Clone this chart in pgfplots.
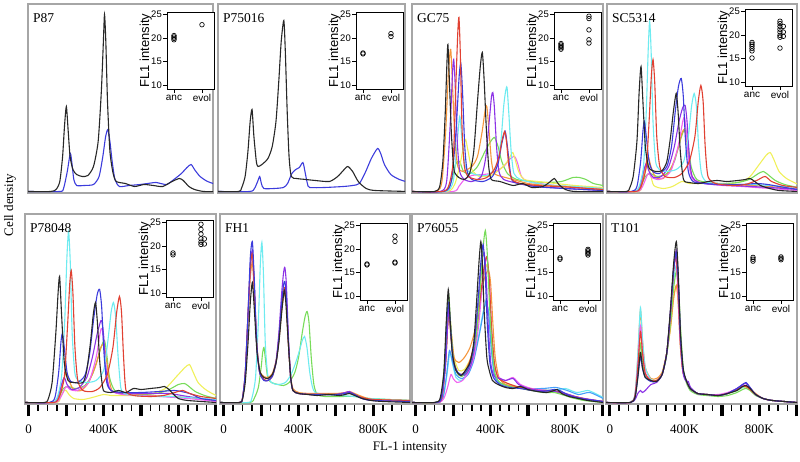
\documentclass[border=0pt]{standalone}
\usepackage{pgfplots}
\pgfplotsset{compat=1.18}
\usepackage{fontspec}
\setmainfont{Liberation Serif}
\newfontfamily\sansf{Liberation Sans}
\definecolor{cblk}{RGB}{40,40,40}
\definecolor{cblu}{RGB}{60,60,220}
\definecolor{cred}{RGB}{225,65,50}
\definecolor{ccya}{RGB}{110,235,240}
\definecolor{cgrn}{RGB}{120,220,90}
\definecolor{cyel}{RGB}{240,240,90}
\definecolor{cora}{RGB}{245,150,60}
\definecolor{cpur}{RGB}{140,50,230}
\definecolor{cmag}{RGB}{240,100,240}
\definecolor{csky}{RGB}{70,160,250}
\tikzset{ptitle/.style={anchor=north west, inner sep=0pt, font=\fontsize{13.5}{13.5}\selectfont}}
\pgfplotsset{
  panel/.style={scale only axis, height=189pt, xmin=-20, ymin=-1.5, ymax=187.5,
    axis line style={draw=black!35, line width=1.1pt}, xtick=\empty, ytick=\empty, anchor=south west,
    every axis plot/.append style={line width=1.1pt, no marks, smooth, tension=0.4}},
  lowpanel/.style={panel, height=190pt, ymax=188.5, xtick={0,200,400,600,800,1000}, xticklabels={0,,400K,,800K,},
    minor xtick={50,100,150,250,300,350,450,500,550,650,700,750,850,900,950},
    tick align=outside, tick pos=left, major tick length=12.5pt, minor tick length=7pt,
    major tick style={line width=3.1pt, black}, minor tick style={line width=1.6pt, black},
    xticklabel style={font=\fontsize{13}{13}\selectfont, yshift=-5pt}},
  inset/.style={scale only axis, width=47pt, height=77pt, xmin=0.75, xmax=2.43, ymin=9.15, ymax=25.5, anchor=south west,
    xtick={1,2}, xticklabels={anc,evol}, ytick={10,15,20,25}, yticklabels={10,15,20,25},
    tick align=outside, tick pos=left, major tick length=4pt, tick style={black, line width=0.6pt},
    axis line style={black, line width=0.7pt}, axis background/.style={fill=white},
    yticklabel style={font=\sansf\fontsize{9.5}{9.5}\selectfont, inner sep=1pt},
    xticklabel style={font=\sansf\fontsize{10}{10}\selectfont, inner sep=1.5pt},
    ylabel={FL1 intensity}, ylabel style={font=\sansf\fontsize{13}{13}\selectfont, yshift=-5pt}},
  pts/.style={only marks, mark=o, mark size=2.3pt, black, line width=0.65pt}
}
\begin{document}
\begin{tikzpicture}
\path[use as bounding box] (0,0) rectangle (800pt,462pt);
% ---------------- P87
\begin{axis}[panel, at={(28pt,269pt)}, width=185pt, xmax=969]
\addplot[cblu] coordinates {(-20,0)(150,0)(170,3)(190,20)(206,38)(215,28)(225,12)(240,6)(280,6)(330,7)(360,15)(380,35)(395,55)(407,62)(418,50)(430,30)(445,12)(469,5)(520,6)(580,7)(620,8)(665,9)(720,7)(760,12)(800,18)(830,24)(852,27)(870,22)(900,15)(940,10)(1002,6)};
\addplot[cblk] coordinates {(-20,0)(100,0)(130,2)(150,10)(165,35)(175,65)(185,85)(195,60)(205,35)(220,22)(240,17)(270,15)(300,16)(330,25)(355,50)(372,100)(383,150)(389,177)(396,150)(405,90)(418,40)(435,18)(452,10)(500,8)(550,5)(600,7)(650,6)(700,5)(750,10)(789,13)(810,11)(840,5)(870,2)(920,0)(1002,0)};
\node[ptitle] at (rel axis cs:0,1) [xshift=5pt, yshift=-9pt] {P87};
\end{axis}
% ---------------- P75016
\begin{axis}[panel, at={(218pt,269pt)}, width=187pt, xmax=980]
\addplot[cblu] coordinates {(-20,0)(150,0)(175,3)(192,10)(203,15)(212,8)(225,3)(280,3)(330,4)(352,8)(375,18)(396,22)(415,24)(434,29)(445,20)(458,8)(470,4)(550,4)(650,5)(700,6)(736,8)(770,20)(800,33)(833,43)(850,38)(870,27)(904,17)(950,12)(1002,9)};
\addplot[cblk] coordinates {(-20,0)(90,0)(105,3)(125,15)(140,40)(152,70)(162,82)(172,55)(185,30)(194,25)(215,27)(247,33)(270,45)(290,70)(305,110)(318,150)(332,171)(340,140)(350,80)(360,35)(372,15)(400,13)(450,12)(500,11)(576,10)(620,15)(650,21)(674,25)(700,20)(730,10)(772,3)(820,1)(1002,0)};
\node[ptitle] at (rel axis cs:0,1) [xshift=5pt, yshift=-9pt] {P75016};
\end{axis}
% ---------------- GC75
\begin{axis}[panel, at={(412pt,269pt)}, width=191pt, xmax=1001]
\addplot[cmag] coordinates {(-20,0)(200,0)(230,5)(260,12)(300,16)(400,18)(470,25)(500,32)(528,35)(545,28)(565,15)(600,10)(700,7)(800,5)(1002,3)};
\addplot[cgrn] coordinates {(-20,0)(150,0)(190,10)(215,28)(235,30)(255,20)(290,18)(330,25)(370,40)(400,50)(421,54)(440,45)(460,30)(490,18)(540,12)(620,10)(700,9)(780,10)(840,14)(875,14)(910,12)(950,8)(1002,6)};
\addplot[cyel] coordinates {(-20,0)(170,0)(210,8)(240,30)(258,48)(267,52)(280,40)(300,22)(340,15)(400,16)(450,22)(490,30)(510,37)(519,39)(530,33)(550,20)(580,12)(650,10)(750,8)(850,6)(1002,4)};
\addplot[ccya] coordinates {(-20,0)(160,0)(200,10)(220,45)(235,75)(248,50)(265,25)(300,18)(380,16)(430,25)(455,50)(470,85)(480,100)(488,104)(497,80)(510,40)(525,18)(560,12)(650,8)(750,6)(850,5)(1002,3)};
\addplot[cora] coordinates {(-20,0)(110,0)(140,10)(160,60)(175,120)(187,142)(198,100)(210,50)(225,25)(250,20)(300,25)(330,35)(355,60)(370,80)(380,85)(392,60)(405,30)(420,18)(460,15)(520,12)(600,8)(700,6)(800,5)(900,3)(1002,2)};
\addplot[cpur] coordinates {(-20,0)(130,0)(165,10)(185,70)(197,120)(203,132)(210,110)(222,50)(235,20)(260,12)(300,10)(350,15)(375,35)(395,75)(405,95)(412,99)(420,85)(432,45)(445,20)(470,12)(550,8)(650,5)(800,3)(1002,1)};
\addplot[cblu] coordinates {(-20,0)(150,0)(190,10)(215,60)(232,115)(241,128)(250,100)(262,45)(275,20)(300,12)(360,10)(410,15)(440,28)(460,48)(478,60)(490,45)(505,20)(520,10)(600,6)(700,4)(1002,1)};
\addplot[cred] coordinates {(-20,0)(140,0)(175,5)(200,30)(215,110)(225,160)(231,174)(238,140)(248,60)(260,25)(280,15)(330,12)(380,14)(420,22)(445,35)(460,50)(475,60)(485,50)(498,25)(515,12)(560,8)(650,6)(750,5)(850,4)(1002,2)};
\addplot[cblk] coordinates {(-20,0)(100,0)(128,5)(145,30)(158,80)(166,125)(172,147)(180,110)(190,60)(200,30)(208,19)(230,14)(260,12)(288,18)(310,40)(330,90)(345,125)(356,139)(366,110)(378,60)(390,25)(404,12)(450,10)(520,6)(572,8)(620,4)(680,5)(720,10)(741,13)(765,7)(800,2)(850,0)(1002,0)};
\node[ptitle] at (rel axis cs:0,1) [xshift=5pt, yshift=-9pt] {GC75};
\end{axis}
% ---------------- SC5314
\begin{axis}[panel, at={(607pt,269pt)}, width=190pt, xmax=996]
\addplot[cyel] coordinates {(-20,0)(150,0)(170,10)(190,25)(200,28)(212,18)(230,6)(280,3)(330,5)(380,10)(420,8)(470,8)(520,8)(600,7)(680,9)(740,14)(790,26)(830,36)(852,39)(870,33)(900,20)(940,13)(980,9)(1002,7)};
\addplot[cgrn] coordinates {(-20,0)(130,0)(160,5)(185,15)(210,18)(250,15)(300,18)(340,30)(370,50)(390,61)(400,63)(412,50)(430,25)(460,12)(520,9)(600,8)(680,9)(740,12)(790,18)(816,20)(840,17)(880,11)(930,7)(1002,4)};
\addplot[cora] coordinates {(-20,0)(130,0)(160,6)(185,25)(200,35)(215,25)(240,14)(280,13)(320,22)(355,40)(380,58)(393,62)(405,52)(420,28)(440,13)(480,9)(560,8)(650,7)(750,6)(850,5)(1002,2)};
\addplot[cmag] coordinates {(-20,0)(140,0)(170,5)(200,18)(220,14)(260,12)(320,20)(360,45)(385,70)(395,74)(406,55)(420,25)(440,12)(500,8)(600,6)(700,5)(850,3)(1002,1)};
\addplot[cpur] coordinates {(-20,0)(125,0)(155,5)(175,20)(190,28)(205,20)(230,14)(270,15)(310,25)(340,45)(365,70)(385,84)(398,86)(408,70)(420,35)(435,15)(470,9)(550,7)(650,6)(750,5)(850,4)(1002,2)};
\addplot[ccya] coordinates {(-20,0)(120,0)(150,4)(175,25)(190,80)(200,140)(208,170)(216,140)(226,70)(240,30)(260,22)(300,20)(350,22)(390,30)(415,55)(432,85)(446,98)(458,85)(470,45)(485,18)(510,10)(560,8)(650,7)(750,7)(850,6)(1002,4)};
\addplot[cblu] coordinates {(-20,0)(110,0)(140,5)(160,30)(172,60)(180,70)(190,55)(205,30)(225,20)(260,18)(300,25)(325,45)(345,80)(362,105)(377,113)(388,95)(400,50)(415,20)(440,10)(500,8)(600,7)(700,7)(780,8)(840,7)(900,5)(1002,2)};
\addplot[cred] coordinates {(-20,0)(130,0)(160,4)(190,25)(205,70)(217,115)(226,132)(235,110)(246,55)(262,25)(290,15)(340,14)(380,18)(420,30)(450,55)(468,90)(482,106)(494,90)(505,45)(520,15)(560,8)(650,6)(720,7)(780,11)(825,15)(860,10)(920,6)(1002,4)};
\addplot[cblk] coordinates {(-20,0)(85,0)(100,3)(120,15)(140,50)(152,100)(162,125)(172,90)(185,45)(200,26)(212,22)(240,20)(275,21)(300,30)(320,55)(335,80)(350,98)(360,80)(372,40)(389,12)(420,9)(470,8)(520,10)(570,11)(620,10)(680,11)(720,12)(745,13)(770,10)(800,6)(850,3)(900,1)(1002,0)};
\node[ptitle] at (rel axis cs:0,1) [xshift=5pt, yshift=-9pt] {SC5314};
\end{axis}
% ---------------- P78048
\begin{axis}[lowpanel, at={(25pt,58pt)}, width=191pt, xmax=1001]
\addplot[cyel] coordinates {(-20,0)(150,0)(170,6)(190,12)(200,12)(215,8)(240,4)(290,3)(340,5)(400,8)(440,7)(500,7)(580,7)(660,9)(730,14)(790,26)(835,35)(859,38)(875,32)(905,20)(945,13)(980,9)(1002,7)};
\addplot[cgrn] coordinates {(-20,0)(130,0)(160,5)(185,14)(210,16)(250,14)(300,17)(340,28)(370,45)(392,58)(405,62)(416,50)(432,25)(460,12)(520,9)(600,8)(680,9)(740,12)(800,18)(832,19)(850,17)(890,11)(940,7)(1002,4)};
\addplot[cora] coordinates {(-20,0)(130,0)(160,6)(185,22)(200,30)(215,22)(240,13)(280,12)(320,20)(360,38)(385,55)(400,58)(412,48)(428,25)(445,12)(480,9)(560,8)(650,7)(750,6)(850,5)(1002,2)};
\addplot[cmag] coordinates {(-20,0)(140,0)(170,5)(200,16)(220,13)(260,12)(320,20)(360,45)(382,70)(392,74)(404,55)(418,25)(440,12)(500,8)(600,7)(700,6)(850,4)(1002,1)};
\addplot[cpur] coordinates {(-20,0)(125,0)(155,5)(175,18)(190,25)(205,18)(230,13)(270,15)(310,25)(340,45)(365,68)(382,80)(390,82)(400,68)(412,35)(428,15)(460,10)(550,9)(650,9)(750,9)(850,6)(1002,2)};
\addplot[ccya] coordinates {(-20,0)(120,0)(150,4)(175,25)(192,80)(204,145)(213,171)(222,140)(232,70)(246,30)(265,22)(310,20)(360,22)(400,32)(422,60)(440,90)(453,100)(465,85)(478,45)(492,15)(510,9)(570,7)(650,6)(750,6)(850,5)(1002,3)};
\addplot[cblu] coordinates {(-20,0)(110,0)(140,5)(160,30)(172,60)(180,69)(190,55)(205,30)(225,21)(260,20)(300,27)(325,48)(348,85)(366,108)(379,113)(390,95)(402,50)(417,20)(440,12)(500,10)(600,10)(700,11)(780,12)(840,10)(875,8)(920,4)(1002,2)};
\addplot[cred] coordinates {(-20,0)(130,0)(160,4)(190,25)(207,75)(219,118)(227,132)(236,110)(247,55)(262,22)(290,12)(340,11)(380,15)(420,28)(450,55)(470,90)(485,106)(496,90)(507,45)(520,12)(560,7)(650,6)(720,7)(780,10)(823,12)(860,9)(920,6)(1002,4)};
\addplot[cblk] coordinates {(-20,0)(85,0)(103,3)(125,20)(145,70)(157,110)(165,126)(175,90)(190,40)(210,22)(240,20)(290,20)(310,32)(330,60)(345,88)(357,100)(367,80)(380,40)(395,15)(405,11)(440,10)(480,12)(520,10)(560,14)(600,13)(650,14)(700,15)(725,16)(750,13)(775,8)(800,4)(850,2)(1002,0)};
\node[ptitle] at (rel axis cs:0,1) [xshift=5pt, yshift=-9pt] {P78048};
\end{axis}
% ---------------- FH1
\begin{axis}[lowpanel, at={(220pt,58pt)}, width=190pt, xmax=996]
\addplot[cgrn] coordinates {(-20,0)(140,0)(165,5)(185,15)(200,35)(208,50)(215,55)(222,45)(235,25)(255,20)(290,18)(320,17)(350,20)(380,30)(400,45)(420,70)(435,86)(446,91)(456,80)(468,45)(482,18)(500,8)(540,6)(620,6)(700,6)(780,4)(1002,2)};
\addplot[ccya] coordinates {(-20,0)(130,0)(150,4)(170,25)(185,80)(196,140)(204,160)(212,130)(222,60)(235,28)(255,20)(290,18)(330,20)(360,28)(385,40)(405,52)(420,62)(432,66)(445,55)(460,30)(475,15)(490,10)(540,8)(620,7)(700,6)(780,4)(1002,2)};
\addplot[cora] coordinates {(-20,0)(85,0)(100,4)(115,28)(130,85)(142,125)(153,140)(163,110)(176,60)(192,32)(215,26)(236,25)(260,29)(280,42)(295,62)(310,92)(320,106)(327,110)(335,96)(346,58)(358,26)(370,14)(400,10)(460,9)(520,9)(600,9)(650,10)(672,11)(700,9)(740,6)(800,3)(1002,2)};
\addplot[cpur] coordinates {(-20,0)(85,0)(100,4)(115,28)(130,88)(142,135)(153,152)(163,118)(176,58)(192,30)(215,23)(236,22)(260,27)(280,42)(295,70)(310,110)(320,130)(327,135)(335,118)(346,65)(358,25)(370,12)(400,9)(460,8)(520,8)(600,8)(650,10)(672,11)(700,8)(740,4)(800,2)(1002,1)};
\addplot[cred] coordinates {(-20,0)(85,0)(100,4)(115,30)(130,90)(142,135)(153,149)(163,118)(176,60)(192,30)(215,23)(236,22)(260,26)(280,40)(295,64)(310,96)(320,112)(327,115)(335,100)(346,58)(358,25)(370,12)(400,9)(460,8)(520,8)(600,8)(650,9)(672,10)(700,8)(740,5)(800,3)(1002,2)};
\addplot[cblu] coordinates {(-20,0)(85,0)(100,4)(115,30)(130,90)(142,145)(153,161)(163,125)(176,60)(192,30)(215,22)(236,22)(260,26)(280,40)(295,65)(310,100)(320,118)(327,121)(335,105)(346,60)(358,25)(370,12)(400,9)(460,8)(520,8)(600,8)(650,9)(672,10)(700,8)(740,4)(800,2)(1002,1)};
\addplot[cblk] coordinates {(-20,0)(85,0)(100,3)(115,20)(130,60)(142,100)(153,120)(163,95)(178,50)(195,30)(215,25)(236,24)(260,28)(280,40)(295,60)(310,90)(320,108)(325,112)(332,100)(345,60)(358,25)(370,12)(400,9)(450,8)(500,7)(560,8)(620,7)(650,8)(672,9)(700,7)(740,4)(788,2)(850,1)(1002,0)};
\node[ptitle] at (rel axis cs:0,1) [xshift=5pt, yshift=-9pt] {FH1};
\end{axis}
% ---------------- P76055
\begin{axis}[lowpanel, at={(412pt,58pt)}, width=191pt, xmax=1001]
\addplot[cyel] coordinates {(-20,0)(110,0)(140,5)(160,45)(170,78)(178,92)(190,70)(205,45)(230,32)(260,33)(290,43)(320,62)(345,100)(365,128)(380,138)(392,120)(405,75)(420,40)(440,25)(500,18)(580,14)(660,11)(740,11)(800,8)(880,4)(1002,1)};
\addplot[ccya] coordinates {(-20,0)(115,0)(145,4)(165,25)(182,50)(195,40)(215,25)(245,22)(280,30)(310,45)(340,70)(362,92)(378,99)(390,90)(402,60)(418,30)(440,20)(500,16)(580,14)(660,13)(740,12)(800,14)(860,10)(920,12)(960,9)(1002,5)};
\addplot[csky] coordinates {(-20,0)(115,0)(145,4)(165,28)(180,52)(195,42)(215,28)(245,24)(280,28)(310,42)(340,68)(362,90)(376,102)(390,88)(403,55)(420,28)(445,20)(520,16)(600,14)(680,14)(750,15)(810,12)(870,8)(930,10)(1002,4)};
\addplot[cora] coordinates {(-20,0)(110,0)(140,4)(160,40)(170,75)(180,92)(190,70)(205,45)(230,40)(260,45)(290,55)(320,75)(345,105)(368,125)(388,132)(400,120)(412,80)(425,45)(445,25)(480,18)(550,15)(620,12)(700,12)(760,10)(830,7)(900,4)(1002,1)};
\addplot[cmag] coordinates {(-20,0)(120,0)(150,4)(170,15)(188,28)(200,24)(220,20)(250,22)(280,30)(310,45)(335,75)(355,115)(372,140)(382,143)(394,120)(406,70)(420,38)(440,26)(480,22)(520,25)(560,18)(620,14)(700,12)(780,10)(850,5)(1002,1)};
\addplot[cred] coordinates {(-20,0)(110,0)(140,5)(160,40)(170,75)(178,90)(188,65)(205,40)(230,28)(260,30)(290,42)(320,65)(345,105)(365,135)(380,146)(392,125)(405,75)(420,40)(440,25)(480,20)(540,16)(600,14)(660,12)(730,12)(780,10)(850,6)(920,3)(1002,1)};
\addplot[cpur] coordinates {(-20,0)(108,0)(138,4)(158,35)(170,75)(178,95)(188,70)(203,40)(228,28)(260,27)(290,35)(315,55)(335,95)(352,138)(365,150)(376,128)(388,75)(402,38)(420,26)(450,24)(480,22)(520,24)(550,18)(600,14)(660,12)(740,11)(800,9)(870,5)(1002,1)};
\addplot[cgrn] coordinates {(-20,0)(105,0)(135,5)(155,40)(166,85)(176,108)(186,80)(200,45)(220,30)(245,26)(275,32)(300,45)(325,70)(345,115)(360,155)(372,172)(382,150)(395,95)(410,50)(425,28)(450,20)(500,16)(560,14)(620,12)(680,10)(740,10)(780,8)(830,5)(900,2)(1002,0)};
\addplot[cblu] coordinates {(-20,0)(105,0)(135,4)(155,35)(166,80)(176,100)(186,75)(200,42)(225,30)(255,28)(285,36)(310,55)(330,95)(348,140)(360,158)(370,135)(382,80)(396,40)(415,25)(450,18)(500,15)(560,14)(620,12)(680,11)(740,13)(770,12)(820,7)(880,4)(1002,1)};
\addplot[cblk] coordinates {(-20,0)(100,0)(130,4)(150,30)(163,80)(174,113)(183,85)(195,50)(215,32)(242,27)(265,32)(290,40)(310,60)(325,100)(338,140)(348,161)(356,140)(366,90)(380,45)(393,32)(410,22)(440,18)(480,15)(520,14)(560,16)(600,13)(650,11)(700,10)(740,12)(757,13)(780,9)(820,6)(870,4)(920,2)(1002,0)};
\node[ptitle] at (rel axis cs:0,1) [xshift=5pt, yshift=-9pt] {P76055};
\end{axis}
% ---------------- T101
\begin{axis}[lowpanel, at={(606pt,58pt)}, width=191pt, xmax=1001]
\addplot[cyel] coordinates {(-20,0)(110,0)(135,6)(150,30)(164,60)(175,42)(190,28)(220,22)(250,22)(280,30)(305,50)(325,75)(342,105)(356,117)(366,100)(378,55)(392,30)(409,22)(430,14)(470,9)(520,8)(580,7)(630,9)(680,12)(710,15)(729,15)(750,13)(780,8)(820,4)(870,2)(1002,0)};
\addplot[cora] coordinates {(-20,0)(110,0)(135,8)(150,45)(164,92)(175,62)(190,35)(220,24)(250,24)(280,30)(305,50)(325,75)(342,105)(356,117)(366,100)(378,55)(392,30)(409,22)(430,14)(470,9)(520,8)(580,7)(630,9)(680,13)(710,16)(729,16)(750,14)(780,9)(820,4)(870,2)(1002,0)};
\addplot[ccya] coordinates {(-20,0)(110,0)(135,9)(150,48)(164,95)(175,64)(190,35)(220,23)(250,22)(280,28)(305,48)(325,85)(342,122)(356,137)(366,112)(378,60)(392,32)(409,22)(430,14)(470,9)(520,8)(580,7)(630,9)(680,12)(710,15)(729,16)(750,14)(780,8)(820,4)(870,2)(1002,0)};
\addplot[cgrn] coordinates {(-20,0)(110,0)(135,6)(150,30)(164,59)(175,42)(190,27)(220,22)(250,21)(280,28)(305,48)(325,80)(342,115)(356,131)(368,115)(380,70)(394,32)(409,20)(430,12)(470,8)(520,7)(580,6)(630,7)(680,10)(710,13)(729,14)(750,12)(780,7)(820,4)(870,2)(1002,0)};
\addplot[cmag] coordinates {(-20,0)(110,0)(135,7)(150,38)(164,77)(175,52)(190,30)(220,22)(250,22)(280,28)(305,50)(325,90)(340,130)(352,147)(362,120)(375,65)(390,32)(409,22)(430,14)(470,9)(520,8)(580,8)(630,10)(680,14)(710,17)(729,17)(750,14)(780,8)(820,4)(870,2)(1002,0)};
\addplot[cred] coordinates {(-20,0)(110,0)(135,7)(150,35)(164,71)(175,50)(190,29)(220,22)(250,22)(280,28)(305,50)(325,90)(342,132)(354,147)(364,120)(376,65)(390,32)(409,22)(430,14)(470,9)(520,8)(580,7)(630,9)(680,13)(710,16)(729,16)(750,13)(780,8)(820,4)(870,2)(1002,0)};
\addplot[cpur] coordinates {(-20,0)(110,0)(135,3)(150,9)(164,12)(175,10)(190,12)(220,18)(250,20)(280,28)(305,50)(325,92)(342,135)(356,152)(366,125)(378,65)(392,30)(405,22)(420,21)(432,15)(470,9)(520,8)(580,7)(630,9)(680,14)(710,18)(729,19)(750,15)(780,8)(820,4)(870,2)(1002,0)};
\addplot[cblu] coordinates {(-20,0)(110,0)(135,5)(150,25)(164,46)(175,34)(190,25)(220,21)(250,21)(280,28)(305,50)(325,92)(342,134)(356,150)(366,124)(378,66)(392,33)(409,22)(430,14)(470,9)(520,8)(580,7)(630,9)(680,14)(710,18)(729,20)(750,15)(780,8)(820,4)(870,2)(1002,0)};
\addplot[cblk] coordinates {(-20,0)(110,0)(135,5)(150,25)(164,50)(175,35)(190,25)(220,22)(250,21)(280,28)(305,50)(325,95)(342,140)(356,161)(366,130)(378,70)(392,35)(409,22)(430,14)(470,9)(520,8)(580,7)(630,9)(680,12)(710,16)(729,17)(750,14)(780,8)(820,4)(870,2)(1002,0)};
\node[ptitle] at (rel axis cs:0,1) [xshift=5pt, yshift=-9pt] {T101};
\end{axis}
% ---------------- insets
\begin{axis}[inset, at={(167pt,373pt)}]
\addplot[pts] coordinates {(1,19.6)(1,19.9)(1,20.2)(1,20.5)(2,22.8)};
\end{axis}
\begin{axis}[inset, at={(356pt,373pt)}]
\addplot[pts] coordinates {(1,16.6)(1,16.8)(2,20.3)(2,20.9)};
\end{axis}
\begin{axis}[inset, at={(554pt,373pt)}]
\addplot[pts] coordinates {(1,17.6)(1,17.9)(1,18.2)(1,18.5)(1,18.8)(2,24.6)(2,24.1)(2,21.7)(2,19.6)(2,18.9)};
\end{axis}
\begin{axis}[inset, at={(745pt,376pt)}]
\addplot[pts] coordinates {(1,18.4)(1,18.0)(1,17.6)(1,17.1)(1,16.6)(1,15.1)(2,22.9)(2,22.4)(2,21.8)(2,21.2)(2,20.6)(2,19.9)(2,19.5)(2,17.2)(2.12,20.6)(2.12,21.8)(2.12,19.7)};
\end{axis}
\begin{axis}[inset, at={(166pt,165pt)}]
\addplot[pts] coordinates {(1,18.5)(1,18.1)(2,24.6)(2,23.5)(2,22.5)(2,21.5)(2,20.8)(2,20.3)(2.12,20.4)(2.12,21.5)};
\end{axis}
\begin{axis}[inset, at={(360pt,162pt)}]
\addplot[pts] coordinates {(1,16.6)(1,16.8)(2,22.7)(2,21.6)(2,17.0)(2,17.2)};
\end{axis}
\begin{axis}[inset, at={(553pt,162pt)}]
\addplot[pts] coordinates {(1,17.8)(1,18.1)(2,18.7)(2,19.0)(2,19.3)(2,19.6)(2,19.9)};
\end{axis}
\begin{axis}[inset, at={(746pt,162pt)}]
\addplot[pts] coordinates {(1,17.4)(1,17.8)(1,18.2)(2,17.7)(2,18.0)(2,18.3)};
\end{axis}
% ---------------- global labels
\node[rotate=90, font=\fontsize{13}{13}\selectfont] at (10pt,257pt) {Cell density};
\node[font=\fontsize{13}{13}\selectfont] at (410pt,14pt) {FL-1 intensity};
\end{tikzpicture}
\end{document}
